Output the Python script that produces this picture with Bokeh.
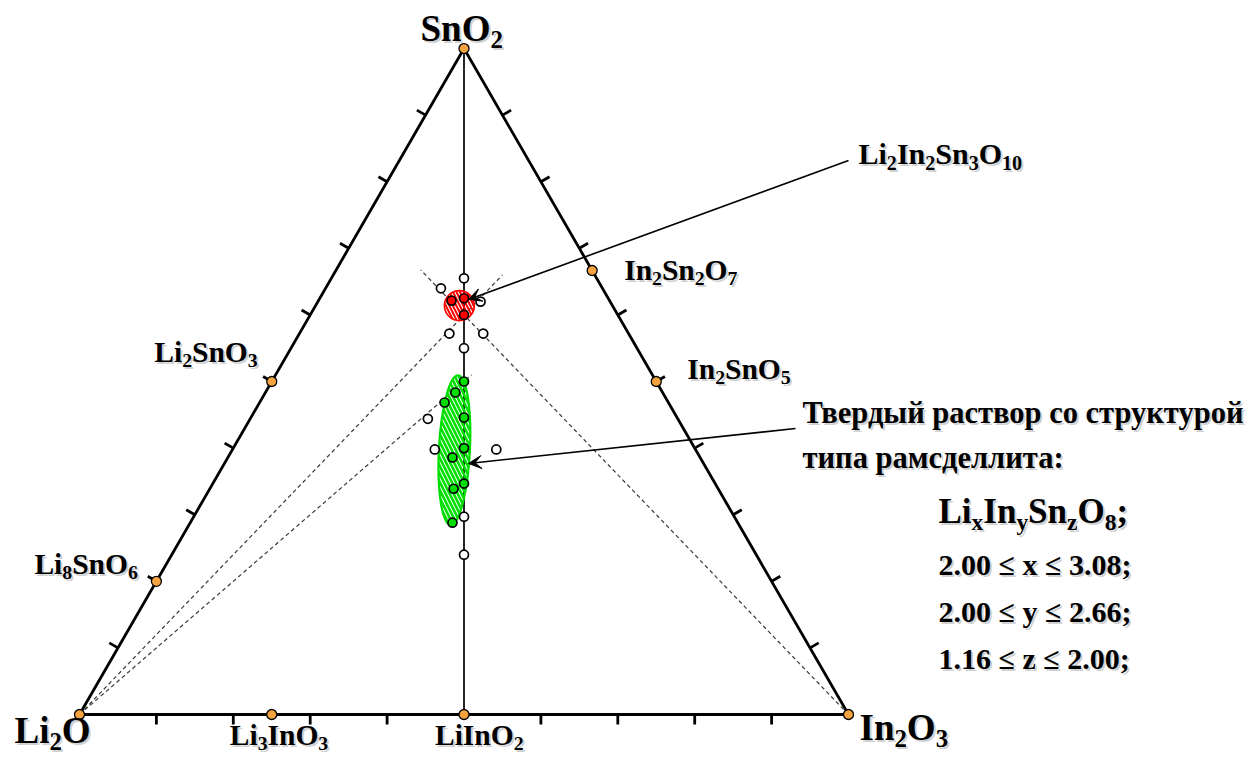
import math
from bokeh.plotting import figure
from bokeh.models import Range1d, Arrow, VeeHead, ColumnDataSource
from bokeh.core.properties import value
from bokeh.embed import file_html
from bokeh.resources import INLINE

# ---------------- data: mole fractions (Li2O, In2O3, SnO2) ----------------
compound_names = ["Li2O", "In2O3", "SnO2", "Li2SnO3", "Li8SnO6",
                  "Li3InO3", "LiInO2", "In2Sn2O7", "In2SnO5"]
compound_li = [1.0, 0.0, 0.0, 0.5, 0.8, 0.75, 0.5, 0.0, 0.0]
compound_in = [0.0, 1.0, 0.0, 0.0, 0.0, 0.25, 0.5, 1 / 3, 0.5]
compound_sn = [0.0, 0.0, 1.0, 0.5, 0.2, 0.0, 0.0, 2 / 3, 0.5]

# samples inside the Li2In2Sn3O10 field
red_li = [0.2055, 0.1875, 0.2]
red_in = [0.173, 0.1875, 0.2]
red_sn = [0.6215, 0.625, 0.6]

# samples of the ramsdellite-type solid solution
green_li = [0.25, 0.269, 0.291, 0.277, 0.3, 0.322, 0.3266, 0.344, 0.371]
green_in = [0.25, 0.247, 0.2405, 0.277, 0.3, 0.292, 0.3266, 0.317, 0.341]
green_sn = [0.5, 0.4835, 0.4685, 0.446, 0.4, 0.386, 0.3468, 0.339, 0.288]

# multiphase samples
open_li = [0.1725, 0.21, 0.1685, 0.233, 0.189, 0.225, 0.325, 0.339, 0.259, 0.3515, 0.38]
open_in = [0.1725, 0.15, 0.2115, 0.195, 0.239, 0.225, 0.231, 0.263, 0.343, 0.3515, 0.38]
open_sn = [0.655, 0.64, 0.62, 0.572, 0.572, 0.55, 0.444, 0.398, 0.398, 0.297, 0.24]

# dashed sections (from a corner towards a fixed ratio of the other two oxides)
tie_from = ["Li2O", "Li2O", "In2O3"]
tie_end_li = [0.12, 0.235, 0.2225]
tie_end_in = [0.22, 0.255, 0.11]
tie_end_sn = [0.66, 0.51, 0.6675]

# single-phase fields: Li2In2Sn3O10 and the solid solution
field_li = [0.199, 0.314]
field_in = [0.187, 0.289]
field_sn = [0.614, 0.397]

tick_fracs = [0.1, 0.2, 0.3, 0.4, 0.5, 0.6, 0.7, 0.8, 0.9]

solution_title = ["Твердый раствор со структурой", "типа рамсделлита:"]
solution_formula = "Li_{x}In_{y}Sn_{z}O_{8};"
solution_limits = ["2.00 \u2264 x \u2264 3.08;", "2.00 \u2264 y \u2264 2.66;", "1.16 \u2264 z \u2264 2.00;"]

# ---------------- geometry ----------------
W, H = 1247, 758
SIDE = 769.0            # px per unit of composition
ORIGIN = (79.0, 714.0)  # page position of the Li2O corner
R3 = math.sqrt(3) / 2


def tern(li, inn, sn):
    return inn + sn / 2.0, sn * R3


def tern_list(li, inn, sn):
    pts = [tern(a, b, c) for a, b, c in zip(li, inn, sn)]
    return [q[0] for q in pts], [q[1] for q in pts]


def page(px, py):
    return (px - ORIGIN[0]) / SIDE, (ORIGIN[1] - py) / SIDE


p = figure(width=W, height=H, output_backend="svg", toolbar_location=None,
           x_range=Range1d(-ORIGIN[0] / SIDE, (W - ORIGIN[0]) / SIDE),
           y_range=Range1d((ORIGIN[1] - H) / SIDE, ORIGIN[1] / SIDE),
           min_border=0, x_axis_location=None, y_axis_location=None, title=None)
p.grid.visible = False
p.outline_line_color = None
p.background_fill_color = "white"

cx, cy = tern_list(compound_li, compound_in, compound_sn)
idx = {n: i for i, n in enumerate(compound_names)}

# triangle
tri = [idx["Li2O"], idx["In2O3"], idx["SnO2"], idx["Li2O"]]
p.line([cx[i] for i in tri], [cy[i] for i in tri], line_color="black", line_width=2.8)

# LiInO2 - SnO2 join
j = [idx["LiInO2"], idx["SnO2"]]
p.line([cx[i] for i in j], [cy[i] for i in j], line_color="black", line_width=1.7)

# ticks
TL = 10.0
tx0, ty0, tx1, ty1 = [], [], [], []
for f in tick_fracs:
    # Li2O - SnO2 side, outward normal
    x, y = tern(f, 0.0, 1 - f)
    tx0.append(x); ty0.append(y)
    tx1.append(x - 0.866 * TL / SIDE); ty1.append(y + 0.5 * TL / SIDE)
    # In2O3 - SnO2 side
    x, y = tern(0.0, f, 1 - f)
    tx0.append(x); ty0.append(y)
    tx1.append(x + 0.866 * TL / SIDE); ty1.append(y + 0.5 * TL / SIDE)
    # Li2O - In2O3 side (the LiInO2 join starts at the middle)
    if abs(f - 0.5) > 1e-9:
        x, y = tern(1 - f, f, 0.0)
        tx0.append(x); ty0.append(y)
        tx1.append(x); ty1.append(y - 10.0 / SIDE)
p.segment(tx0, ty0, tx1, ty1, line_color="black", line_width=2.8)

# dashed sections
ex, ey = tern_list(tie_end_li, tie_end_in, tie_end_sn)
sx = [cx[idx[n]] for n in tie_from]
sy = [cy[idx[n]] for n in tie_from]
p.segment(sx, sy, ex, ey, line_color="#3a3a3a", line_width=1.2, line_dash="4 3")

# single-phase fields
fx, fy = tern_list(field_li, field_in, field_sn)
p.ellipse([fx[0]], [fy[0]], width=30, height=30, width_units="screen", height_units="screen",
          fill_alpha=0, line_color="#FF0000", line_width=1.6,
          hatch_pattern="\\", hatch_color="#FF0000", hatch_scale=7, hatch_weight=2)
p.ellipse([fx[1]], [fy[1]], width=31, height=150, width_units="screen", height_units="screen",
          angle=-0.05, fill_alpha=0, line_color="#00DD00", line_width=2.2,
          hatch_pattern="\\", hatch_color="#00DD00", hatch_scale=8, hatch_weight=2.6)

# samples
ox, oy = tern_list(open_li, open_in, open_sn)
p.scatter(ox, oy, size=9, fill_color="white", line_color="black", line_width=1.7)
rx, ry = tern_list(red_li, red_in, red_sn)
p.scatter(rx, ry, size=9, fill_color="#FF0000", line_color="black", line_width=1.7)
gx, gy = tern_list(green_li, green_in, green_sn)
p.scatter(gx, gy, size=9, fill_color="#00DD00", line_color="black", line_width=1.7)

# known compounds
p.scatter(cx, cy, size=10, fill_color="#F4A340", line_color="black", line_width=1.3)

# callout arrows
head = dict(size=13, fill_color="black", line_color="black", line_width=1)
a0 = page(848, 160); a1 = page(468, 299)
p.add_layout(Arrow(end=VeeHead(**head), x_start=a0[0], y_start=a0[1], x_end=a1[0], y_end=a1[1],
                   line_width=1.6, line_color="black"))
b0 = page(795, 428); b1 = page(468, 463)
p.add_layout(Arrow(end=VeeHead(**head), x_start=b0[0], y_start=b0[1], x_end=b1[0], y_end=b1[1],
                   line_width=1.6, line_color="black"))

# ---------------- text with subscripts ----------------
ADV = {'L': 667, 'i': 278, 'O': 778, 'S': 556, 'n': 556, 'I': 389, 'x': 500,
       'y': 500, 'z': 444, ';': 333, ' ': 250, '.': 250}
for d in "0123456789":
    ADV[d] = 500
SUB = 0.67
DROP = 0.17   # subscript drop, in em of the main text
LIFT = 0.40   # baseline placement correction of the text glyph, in em


def runs_of(formula):
    runs, i = [], 0
    while i < len(formula):
        ch = formula[i]
        if ch == "_":
            k = formula.index("}", i)
            runs.append((formula[i + 2:k], True)); i = k + 1
        elif ch.isdigit():
            k = i
            while k < len(formula) and formula[k].isdigit():
                k += 1
            runs.append((formula[i:k], True)); i = k
        else:
            k = i
            while k < len(formula) and not (formula[k].isdigit() or formula[k] == "_"):
                k += 1
            runs.append((formula[i:k], False)); i = k
    return runs


txt = dict(x=[], y=[], text=[], size=[], xo=[], yo=[])


def put(x, y, dx, dy, s, fs):
    txt["x"].append(x); txt["y"].append(y); txt["text"].append(s)
    txt["size"].append(f"{fs:.1f}px"); txt["xo"].append(dx); txt["yo"].append(dy - LIFT * fs)


def formula_label(x, y, dx, dy, formula, fs):
    cur = 0.0
    for s, sub in runs_of(formula):
        f = fs * SUB if sub else fs
        put(x, y, dx + cur, dy + (DROP * fs if sub else 0.0), s, f)
        cur += sum(ADV.get(c, 500) for c in s) * f / 1000.0


label_off = {
    "Li2O": (-65, 31, 37), "In2O3": (11, 28, 37), "SnO2": (-43.5, -5, 37),
    "Li2SnO3": (-117.5, -18, 29.5), "Li8SnO6": (-122, -6, 29.5),
    "Li3InO3": (-42, 32, 29.5), "LiInO2": (-29, 32, 29.5),
    "In2Sn2O7": (32, 11, 29.5), "In2SnO5": (31, -1, 29.5),
}
for n in compound_names:
    dx, dy, fs = label_off[n]
    formula_label(cx[idx[n]], cy[idx[n]], dx, dy, n, fs)

x, y = page(858, 165)
formula_label(x, y, 0, 0, "Li2In2Sn3O10", 30)
for k, line in enumerate(solution_title):
    x, y = page(802, 425 + 45 * k)
    put(x, y, 0, 0, line, 30.5)
x, y = page(938, 525)
formula_label(x, y, 0, 0, solution_formula, 35)
for k, line in enumerate(solution_limits):
    x, y = page(938, 576 + 47 * k)
    put(x, y, 0, 0, line, 30)

src = ColumnDataSource(txt)
common = dict(x="x", y="y", text="text", x_offset="xo", y_offset="yo",
              text_font_size="size", text_font=value("Liberation Serif"),
              text_font_style="bold", text_baseline="alphabetic", text_align="left")
shadow = ColumnDataSource(dict(txt, xo=[v + 2 for v in txt["xo"]], yo=[v + 2 for v in txt["yo"]]))
p.text(source=shadow, text_color="#9a9a9a", text_alpha=0.45, **common)
p.text(source=src, text_color="black", **common)

open("out.html", "w").write(file_html(p, INLINE))
